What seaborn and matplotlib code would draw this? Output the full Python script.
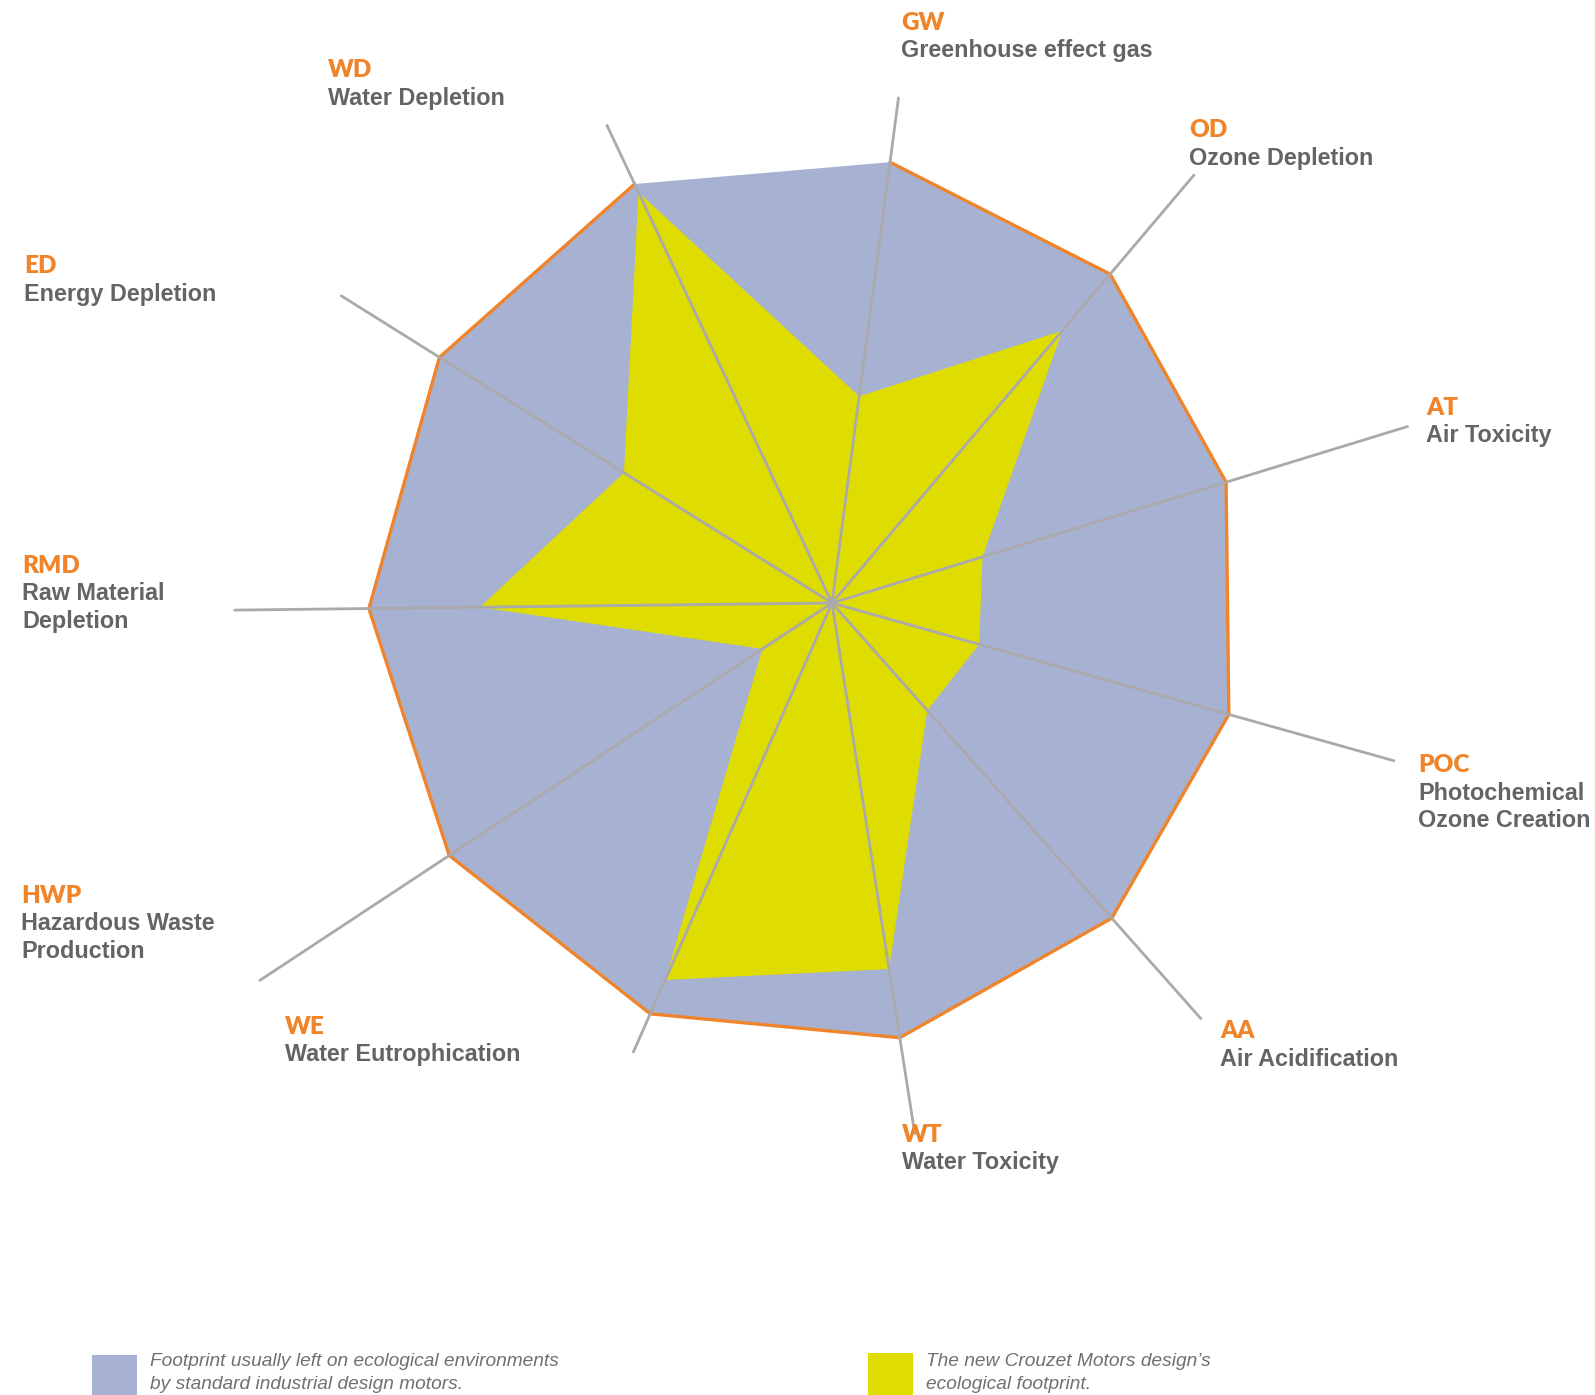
import numpy as np
import pandas as pd
import seaborn as sns
import matplotlib
matplotlib.use('Agg')
import matplotlib.pyplot as plt
from matplotlib.patches import Rectangle

# Axes of the ecological footprint, clockwise from the top
codes = ["GW", "OD", "AT", "POC", "AA", "WT", "WE", "HWP", "RMD", "ED", "WD"]
names = [["Greenhouse effect gas"], ["Ozone Depletion"], ["Air Toxicity"],
         ["Photochemical", "Ozone Creation"], ["Air Acidification"],
         ["Water Toxicity"], ["Water Eutrophication"],
         ["Hazardous Waste", "Production"], ["Raw Material", "Depletion"],
         ["Energy Depletion"], ["Water Depletion"]]

# Values (RMD of the standard motor = 100)
standard = [96, 93, 89, 89, 91, 95, 97, 99, 100, 100, 100]
crouzet = [45, 77, 34, 33, 31, 80, 89, 18, 76, 53, 98]
spoke_reach = [110, 121, 130, 126, 120, 116, 106, 148, 129, 125, 114]

legend_texts = ["Footprint usually left on ecological environments\nby standard industrial design motors.",
                "The new Crouzet Motors design\u2019s\necological footprint."]

# label anchor (left x, baseline of the code) in figure pixels
label_pos = {"GW": (901, 30), "OD": (1189, 137), "AT": (1426, 415),
             "POC": (1418, 772), "AA": (1220, 1038), "WT": (902, 1142),
             "WE": (285, 1034), "HWP": (21, 903), "RMD": (22, 573),
             "ED": (24, 273), "WD": (328, 77)}

BLUE = "#A7B2D2"
YELLOW = "#DEDC00"
ORANGE = "#F0842A"
SPOKE = "#ABA9AB"
TEXT = "#636466"

W, H = 1595, 1395

sns.set_theme(style="white")
plt.rcParams['font.family'] = ['Liberation Sans', 'DejaVu Sans']

fig = plt.figure(figsize=(W / 100, H / 100), dpi=100)
ax = fig.add_axes([91 / W, 51 / H, 1482 / W, 1482 / H], projection="polar")
ax.set_theta_zero_location("N")
ax.set_theta_direction(-1)

theta = np.deg2rad(7.5 + np.arange(len(codes)) * 360 / len(codes))
theta_c = np.append(theta, theta[0])
std_c = np.append(standard, standard[0])
cro_c = np.append(crouzet, crouzet[0])

ax.fill(theta_c, std_c, color=BLUE, lw=0, zorder=1)
sns.lineplot(x=theta_c, y=std_c, sort=False, color=ORANGE, lw=2.4, ax=ax, zorder=2)
ax.fill(theta_c, cro_c, color=YELLOW, lw=0, zorder=3)

spokes = pd.DataFrame({
    "axis": np.repeat(codes, 2),
    "theta": np.repeat(theta, 2),
    "r": np.ravel([[0, L] for L in spoke_reach]),
})
sns.lineplot(data=spokes, x="theta", y="r", units="axis", estimator=None,
             sort=False, color=SPOKE, lw=2.0, ax=ax, zorder=4)

ax.set_rlim(0, 160)
ax.set_xlabel("")
ax.set_ylabel("")
ax.set_axis_off()

# axis labels
for code, lines in zip(codes, names):
    x, b = label_pos[code]
    fig.text(x / W, 1 - b / H, code, ha="left", va="baseline",
             fontsize=17.5, fontweight="heavy", color=ORANGE,
             family=["Lato", "Liberation Sans"])
    for i, line in enumerate(lines):
        fig.text(x / W, 1 - (b + 27.5 * (i + 1)) / H, line, ha="left",
                 va="baseline", fontsize=16.8, fontweight="bold", color=TEXT)

# legend swatches and captions
for (x0, y0), col, txt in zip([(92, 1355), (868, 1353)], [BLUE, YELLOW], legend_texts):
    fig.add_artist(Rectangle((x0 / W, 0), 45 / W, 1 - y0 / H,
                             transform=fig.transFigure, color=col, lw=0))
    for i, line in enumerate(txt.split("\n")):
        fig.text((x0 + 58) / W, 1 - (1366 + 23 * i) / H, line, ha="left",
                 va="baseline", fontsize=13.8, fontstyle="italic", color="#707070")

fig.savefig("out.png", dpi=100)
